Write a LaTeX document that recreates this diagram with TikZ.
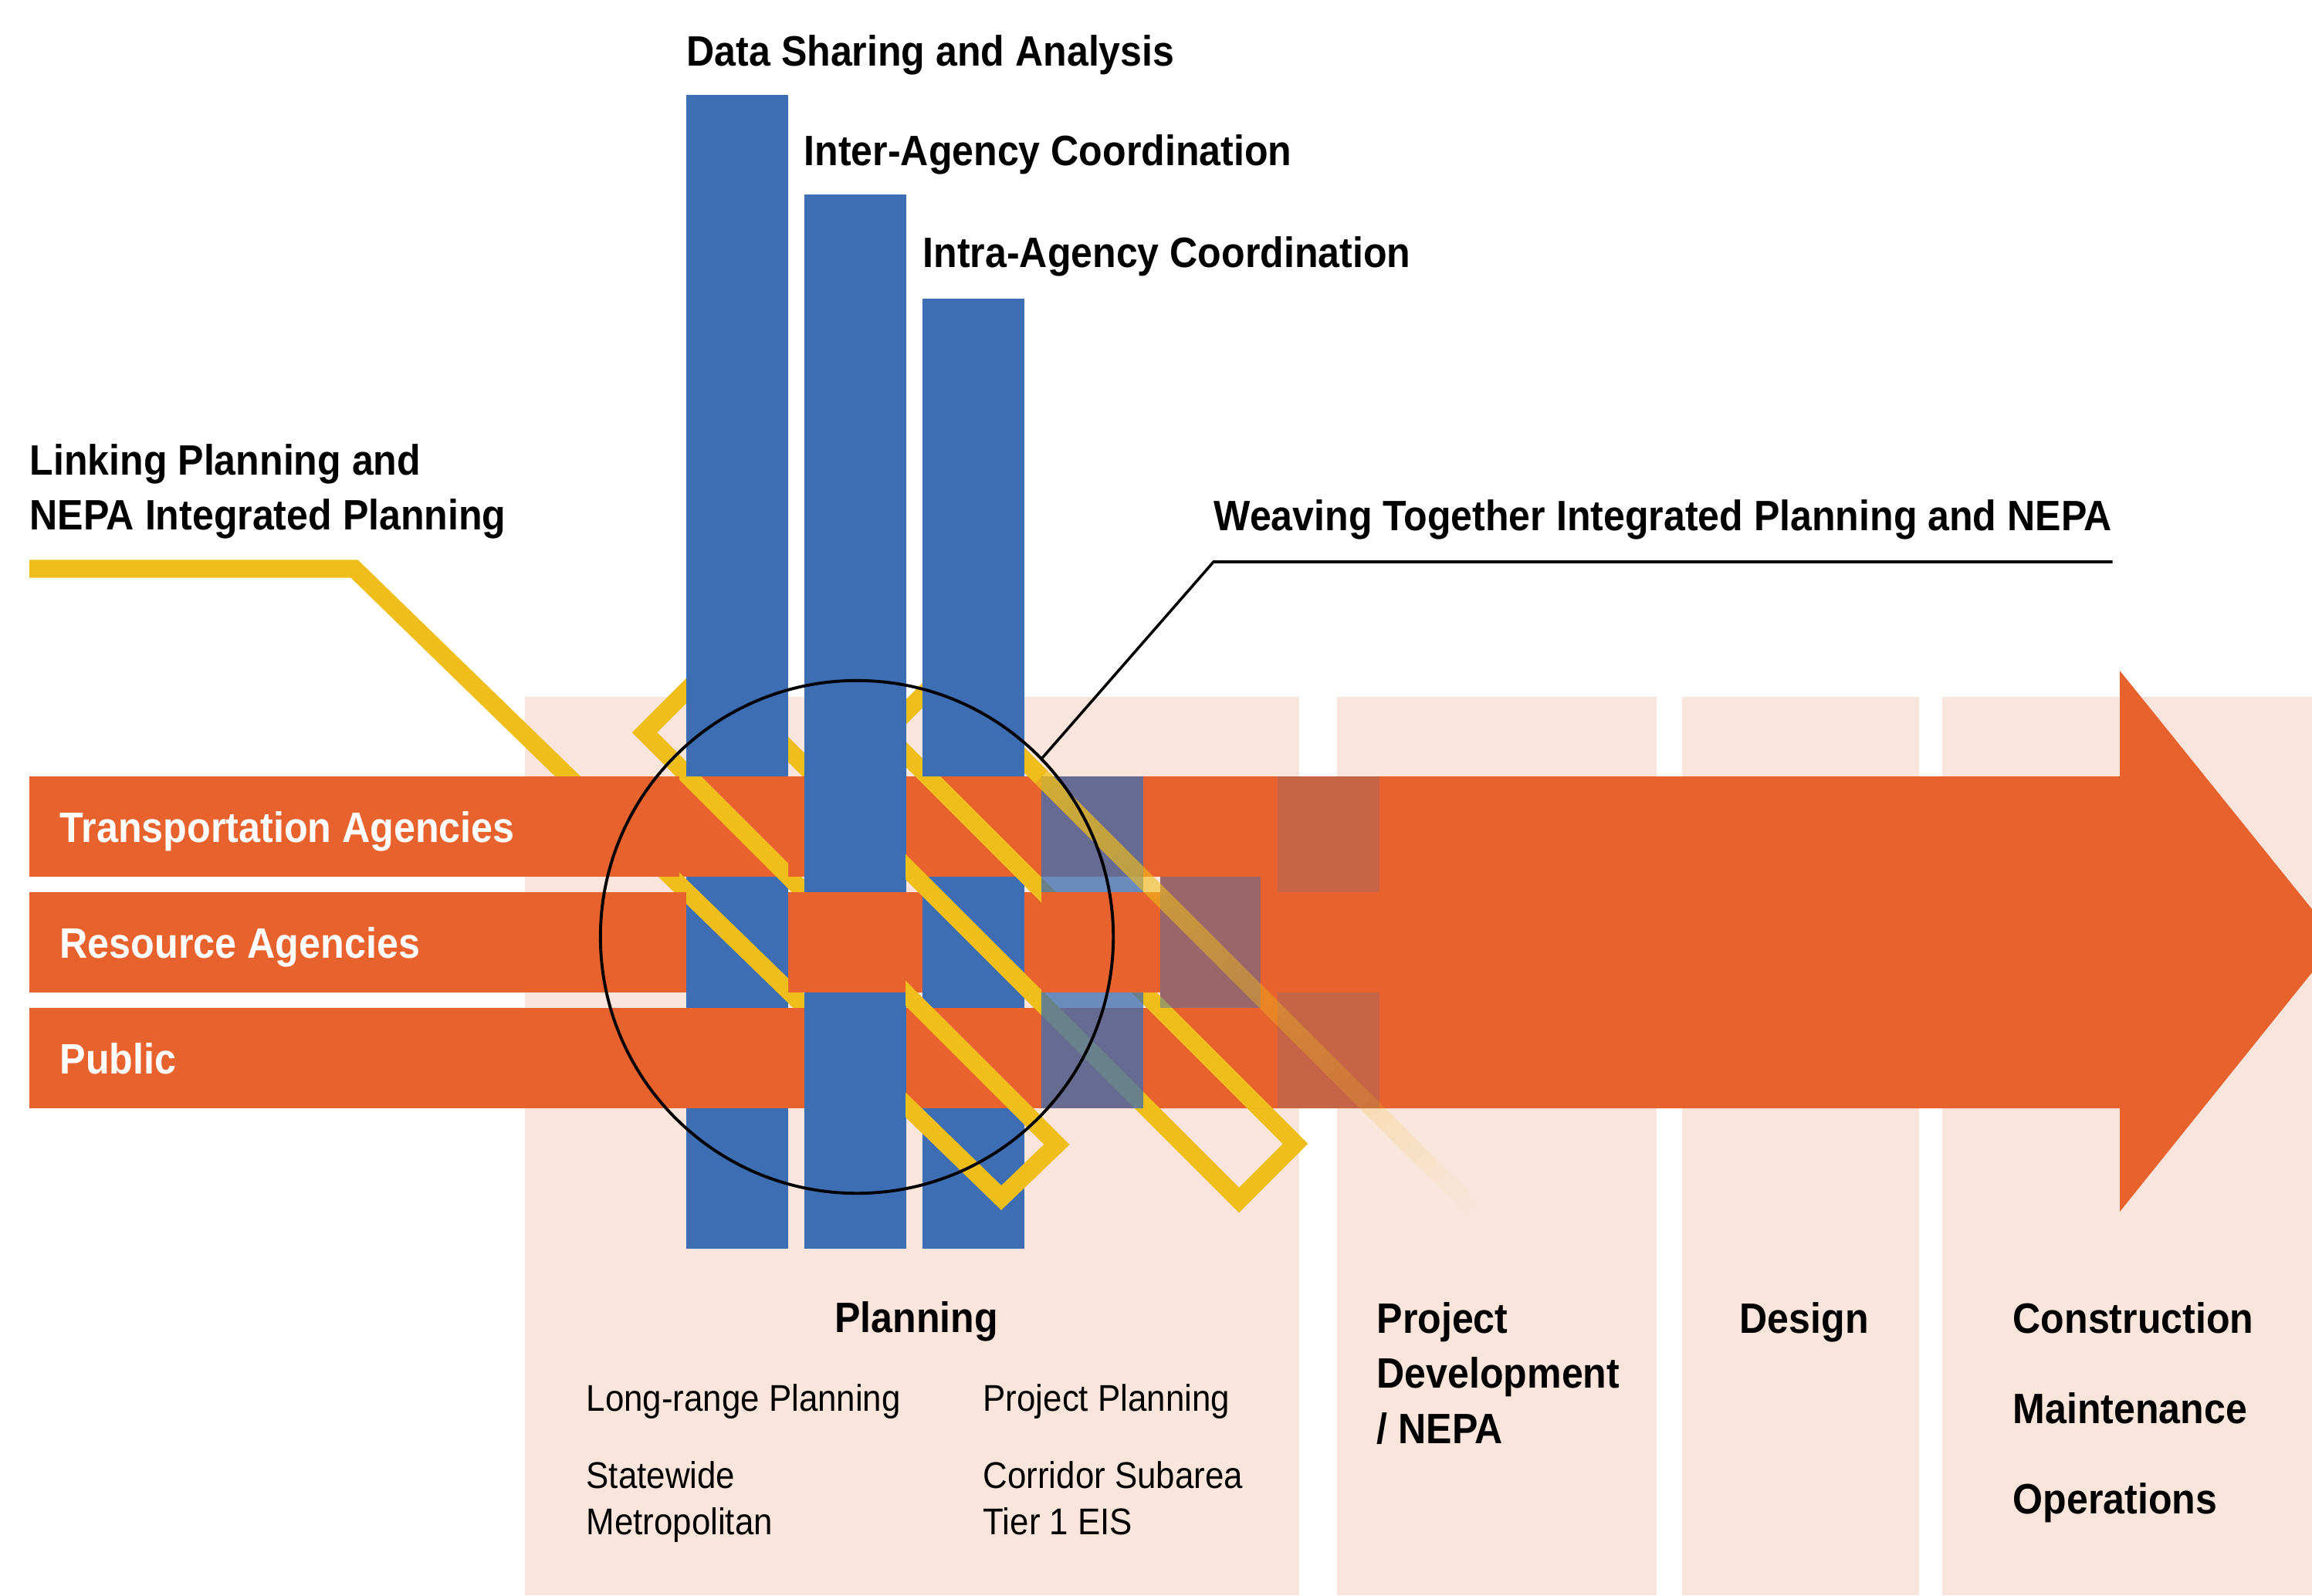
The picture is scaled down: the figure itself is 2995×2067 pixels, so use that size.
\documentclass[tikz,border=0pt]{standalone}
\usepackage{fontspec}
\setmainfont{Liberation Sans}[FakeStretch=0.91]
\usetikzlibrary{calc}

\definecolor{phasepink}{RGB}{250,229,220}
\definecolor{agencyorange}{RGB}{232,98,45}
\definecolor{toolblue}{RGB}{61,109,179}
\definecolor{linkyellow}{RGB}{239,190,27}

\begin{document}
\begin{tikzpicture}%
	[x=0.01cm, y=-0.01cm,
	phase/.style={fill=phasepink},
	band/.style={fill=agencyorange},
	pillar/.style={fill=toolblue},
	ghost/.style={fill=toolblue, fill opacity=#1},
	thread/.style={draw=linkyellow, line width=0.23cm, line join=miter},
	head/.style={anchor=base west, inner sep=0pt, font=\bfseries\fontsize{15.65}{18}\selectfont},
	sub/.style={anchor=base west, inner sep=0pt, font=\fontsize{13.7}{16}\selectfont},
	tag/.style={anchor=base west, inner sep=0pt, text=white, font=\bfseries\fontsize{15.7}{19}\selectfont}]
%
\clip (0,0) rectangle (2995,2067);
%%
%% Coordinates of the yellow thread:
%%
\coordinate (t0) at (38,737);
\coordinate (t1) at (459,737);
\coordinate (t2) at (1297,1552);
\coordinate (t3) at (1369,1483);
\coordinate (t4) at (835,949);
\coordinate (t5) at (917,867);
\coordinate (t6) at (1605,1555);
\coordinate (t7) at (1678,1482);
\coordinate (t8) at (1146,950);
\coordinate (t9) at (1219,877);
\coordinate (t10) at (1349,1007);
\coordinate (tend) at (1910,1568);
%%
%%
%% Drawing the phase columns
%%
\fill[phase] (680,903) rectangle (1683,2067);
\fill[phase] (1732,903) rectangle (2146,2067);
\fill[phase] (2179,903) rectangle (2486,2067);
\fill[phase] (2516,903) rectangle (2995,2067);
%%
%%
%% Drawing the thread (under)
%%
\draw[thread] (t0) -- (t1) -- (t2) -- (t3) -- (t4) -- (t5) -- (t6) -- (t7) -- (t8) -- (t9) -- (t10);
%%
%%
%% Drawing the agency bands and the arrow
%%
\fill[band] (38,1006) rectangle (1503,1136);
\fill[band] (38,1156) rectangle (1503,1286);
\fill[band] (38,1306) rectangle (1503,1436);
\fill[band] (1503,1006) -- (2746,1006) -- (2746,869) -- (3028,1219) -- (2746,1570) -- (2746,1436) -- (1503,1436) -- cycle;
%%
%%
%% Drawing the pillars
%%
\fill[pillar] (889,123) rectangle (1021,1618);
\fill[pillar] (1042,252) rectangle (1174,1618);
\fill[pillar] (1195,387) rectangle (1327,1618);
%%
%% bands woven over the pillars
\foreach \xa/\ya in {889/1006, 1195/1006, 1042/1156, 889/1306, 1195/1306}
  \fill[band] (\xa,\ya) rectangle ++(132,130);
%%
%%
%% Drawing the thread (over)
%%
\begin{scope}
\clip (889,1136) rectangle (1021,1306)
      (880,1006) rectangle (1021,1136)
      (1173,1006) rectangle (1349,1618)
      (1327,1270) rectangle (1349,1306)
      (1349,1286) rectangle (1660,1436);
\draw[thread] (t0) -- (t1) -- (t2) -- (t3) -- (t4) -- (t5) -- (t6) -- (t7) -- (t8) -- (t9) -- (t10);
\end{scope}
%%
%%
%% Drawing the fading pillars
%%
\fill[ghost=0.75] (1349,1006) rectangle (1481,1156);
\fill[ghost=0.75] (1349,1286) rectangle (1481,1436);
\fill[ghost=0.45] (1503,1136) rectangle (1633,1306);
\fill[ghost=0.2] (1655,1006) rectangle (1787,1156);
\fill[ghost=0.2] (1655,1286) rectangle (1787,1436);
%%
%% fading thread
\foreach \k in {0,...,39}{
  \pgfmathsetmacro{\op}{0.8*(1-(\k+0.5)/40)}
  \draw[thread, line cap=butt, draw opacity=\op] ($(t10)!\k/40!(tend)$) -- ($(t10)!{(\k+1)/40}!(tend)$);
}
%%
%%
%% Drawing the circle and its label
%%
\node[draw, circle, line width=1.1pt, minimum size=6.64cm, inner sep=0pt] (weave) at (1110,1214) {};
\node[head] (weavelbl) at (1572,687) {Weaving Together Integrated Planning and NEPA};
\coordinate (elbow) at (1572,728);
\draw[line width=1pt] (weave.44) -- (elbow) -- (elbow -| weavelbl.east);
%%
%%
%% Drawing the labels
%%
\node[head] (dsa) at (889,86) {Data Sharing and Analysis};
\node[head] (inter) at (1041,215) {Inter-Agency Coordination};
\node[head] (intra) at (1195,347) {Intra-Agency Coordination};
\node[head] (link1) at (38,615) {Linking Planning and};
\node[head] (link2) at (38,686) {NEPA Integrated Planning};
\node[tag] (trans) at (77,1091) {Transportation Agencies};
\node[tag] (res) at (77,1241) {Resource Agencies};
\node[tag] (pub) at (77,1391) {Public};
\node[head, anchor=base] (plan) at (1187,1726) {Planning};
\node[sub] (lrp) at (759,1828) {Long-range Planning};
\node[sub] (pp) at (1273,1828) {Project Planning};
\node[sub] (sw) at (759,1928) {Statewide};
\node[sub] (metro) at (759,1988) {Metropolitan};
\node[sub] (corr) at (1273,1928) {Corridor Subarea};
\node[sub] (tier) at (1273,1988) {Tier 1 EIS};
\node[head] (pd1) at (1783,1727) {Project};
\node[head] (pd2) at (1783,1798) {Development};
\node[head] (pd3) at (1783,1870) {/ NEPA};
\node[head] (design) at (2253,1727) {Design};
\node[head] (constr) at (2607,1727) {Construction};
\node[head] (maint) at (2607,1844) {Maintenance};
\node[head] (oper) at (2607,1961) {Operations};
%%
%%
\end{tikzpicture}
\end{document}
